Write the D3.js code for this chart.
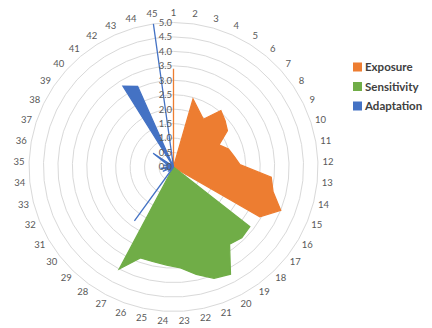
<!DOCTYPE html>
<html>
<head>
<meta charset="utf-8">
<script src="https://cdn.jsdelivr.net/npm/d3@7"></script>
<style>
  html, body { margin: 0; padding: 0; background: #fff; }
  svg { display: block; }
</style>
</head>
<body>
<svg id="chart" width="432" height="328"></svg>
<script>
// Indicator numbers around the radar
const categories = ["1","2","3","4","5","6","7","8","9","10","11","12","13","14","15",
  "16","17","18","19","20","21","22","23","24","25","26","27","28","29","30",
  "31","32","33","34","35","36","37","38","39","40","41","42","43","44","45"];

// Scores per indicator, one array per dimension
const exposure = [3.4, 0, 2.45, 2.15, 1.95, 2.55, 2.4, 2.25, 1.75, 2.0, 2.13, 2.3, 3.4, 3.55, 4.0,
  3.45, 0, 0, 0, 0, 0, 0, 0, 0, 0, 0, 0, 0, 0, 0,
  0, 0, 0, 0, 0, 0, 0, 0, 0, 0, 0, 0, 0, 0, 0];
const sensitivity = [0, 0, 0, 0, 0, 0, 0, 0, 0, 0, 0, 0, 0, 0, 0,
  0, 3.35, 3.4, 3.3, 4.2, 4.1, 3.8, 3.5, 3.4, 3.35, 3.35, 4.0, 0, 0, 0,
  0, 0, 0, 0, 0, 0, 0, 0, 0, 0, 0, 0, 0, 0, 0];
const adaptation = [0, 0, 0, 0, 0, 0, 0, 0, 0, 0, 0, 0, 0, 0, 0,
  0, 0, 0, 0, 0, 0, 0, 0, 0, 0, 0, 0, 2.3, 0, 0.25,
  0, 0.4, 0.15, 0.45, 0.1, 0.35, 0.2, 0.3, 0.85, 0.1, 0, 3.3, 3.05, 0, 5.0];

// Radial axis ticks
const radialTicks = [0, 0.5, 1.0, 1.5, 2.0, 2.5, 3.0, 3.5, 4.0, 4.5, 5.0];

const seriesNames = ["Exposure", "Sensitivity", "Adaptation"];
const seriesColors = ["#ED7D31", "#70AD47", "#4472C4"];
const seriesValues = [exposure, sensitivity, adaptation];

const svg = d3.select("#chart");
const cx = 173.5, cy = 167;
const g = svg.append("g").attr("transform", `translate(${cx},${cy})`);

const r = d3.scaleLinear().domain([0, 5]).range([0, 144.5]);
// Clockwise angle from 12 o'clock for each indicator
const angle = d3.scaleLinear().domain([0, categories.length]).range([0, 2 * Math.PI]);

// Gridline rings
const ring = d3.lineRadial()
  .angle((d, i) => angle(i))
  .radius(d => d)
  .curve(d3.curveLinearClosed);

g.append("g").selectAll("path")
  .data(radialTicks.filter(t => t > 0))
  .join("path")
  .attr("d", t => ring(categories.map(() => r(t))))
  .attr("fill", "none")
  .attr("stroke", "#d9d9d9")
  .attr("stroke-width", 1);

// Filled series areas
const area = d3.lineRadial()
  .angle((d, i) => angle(i))
  .radius(d => r(d))
  .curve(d3.curveLinearClosed);

g.append("g").selectAll("path")
  .data(seriesValues)
  .join("path")
  .attr("d", d => area(d))
  .attr("fill", (d, i) => seriesColors[i])
  .attr("stroke", (d, i) => seriesColors[i])
  .attr("stroke-width", 1.3)
  .attr("stroke-linejoin", "miter");

// Radial tick labels along the vertical axis
g.append("g").selectAll("text")
  .data(radialTicks)
  .join("text")
  .attr("x", -1.5)
  .attr("y", t => -r(t))
  .attr("dy", "0.35em")
  .attr("text-anchor", "end")
  .attr("font-family", "Lato, 'Liberation Sans', sans-serif")
  .attr("font-size", 9.5)
  .attr("fill", "#595959")
  .text(t => d3.format(".1f")(t));

// Category labels around the outside
const labelR = 154.5;
g.append("g").selectAll("text")
  .data(categories)
  .join("text")
  .attr("x", (d, i) => labelR * Math.sin(angle(i)))
  .attr("y", (d, i) => -labelR * Math.cos(angle(i)))
  .attr("dy", "0.35em")
  .attr("text-anchor", "middle")
  .attr("font-family", "Lato, 'Liberation Sans', sans-serif")
  .attr("font-size", 9.5)
  .attr("fill", "#595959")
  .text(d => d);

// Legend
const legend = svg.append("g").attr("transform", "translate(353,0)");
const legendY = [67, 86.5, 106];
const items = legend.selectAll("g")
  .data(seriesNames)
  .join("g")
  .attr("transform", (d, i) => `translate(0,${legendY[i]})`);
items.append("rect")
  .attr("x", 0).attr("y", -4.5)
  .attr("width", 9).attr("height", 9)
  .attr("fill", (d, i) => seriesColors[i]);
items.append("text")
  .attr("x", 12)
  .attr("dy", "0.35em")
  .attr("font-family", "Lato, 'Liberation Sans', sans-serif")
  .attr("font-weight", "bold")
  .attr("font-size", 11.5)
  .attr("fill", "#404040")
  .text(d => d);
</script>
</body>
</html>
